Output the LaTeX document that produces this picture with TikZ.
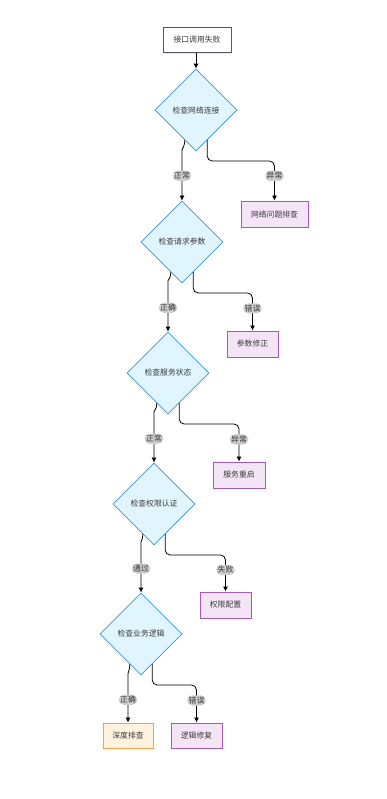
\documentclass[tikz,border=0pt]{standalone}
\usepackage{fontspec}
\setmainfont{Noto Sans CJK SC}
\usetikzlibrary{shapes.geometric,calc,arrows.meta,shadows}
\definecolor{dfill}{HTML}{E1F5FE}
\definecolor{dline}{HTML}{3A94D2}
\definecolor{pfill}{HTML}{F3E5F5}
\definecolor{pline}{HTML}{A558C0}
\definecolor{ofill}{HTML}{FFF3E0}
\definecolor{oline}{HTML}{FF9E45}
\definecolor{txt}{HTML}{3A3A3A}
\definecolor{sline}{HTML}{5A5468}
\definecolor{lblbg}{HTML}{CDCDCD}
\tikzset{
  base/.style={font=\fontsize{7.8}{9}\selectfont, text=txt},
  dia/.style={base, shape=diamond, draw=dline, fill=dfill, line width=0.8pt, minimum width=82pt, minimum height=82pt, inner sep=0pt},
  pbox/.style={base, draw=pline, fill=pfill, line width=0.9pt, minimum height=26pt, inner sep=0pt, drop shadow={opacity=0.18, shadow xshift=1.2pt, shadow yshift=-1.2pt}},
  obox/.style={base, draw=oline, fill=ofill, line width=0.9pt, minimum height=25pt, inner sep=0pt, drop shadow={opacity=0.18, shadow xshift=1.2pt, shadow yshift=-1.2pt}},
  sbox/.style={base, draw=sline, fill=white, line width=0.9pt, minimum height=25pt, minimum width=68pt, inner sep=0pt, drop shadow={opacity=0.18, shadow xshift=1.2pt, shadow yshift=-1.2pt}},
  arr/.style={draw=black, line width=0.8pt, -{Latex[length=5pt,width=5pt]}, rounded corners=5pt},
  lbl/.style={base, fill=lblbg, inner sep=1.5pt, outer sep=0pt}
}
\begin{document}
\begin{tikzpicture}[x=1pt,y=-1pt]
\useasboundingbox (0,0) rectangle (386,799);
% nodes
\node[sbox] (s) at (197,40) {接口调用失败};
\node[dia] (d1) at (196,110) {检查网络连接};
\node[dia] (d2) at (182,242) {检查请求参数};
\node[dia] (d3) at (168,373) {检查服务状态};
\node[dia] (d4) at (154,504) {检查权限认证};
\node[dia] (d5) at (141,634) {检查业务逻辑};
\node[pbox, minimum width=67pt] (n1) at (274.5,214) {网络问题排查};
\node[pbox, minimum width=51pt] (n2) at (252.5,344) {参数修正};
\node[pbox, minimum width=52pt] (n3) at (239,475) {服务重启};
\node[pbox, minimum width=51pt] (n4) at (225.5,605) {权限配置};
\node[obox, minimum width=50pt] (n5) at (128,735.5) {深度排查};
\node[pbox, minimum width=51pt, minimum height=25pt] (n6) at (196.5,735.5) {逻辑修复};
% start arrow
\draw[arr] (d1.north |- s.south) -- (d1.north);
% exit points
\foreach \d in {d1,d2,d3,d4,d5}{
  \coordinate (\d l) at ($(\d.south)!0.27!(\d.west)$);
  \coordinate (\d r) at ($(\d.south)!0.27!(\d.east)$);
  \coordinate (\d h) at ($(\d.center)+(0,51)$);
}
% left branches
\draw[arr] (d1l) .. controls +(-0.5,8) and +(0,-7) .. ($(d2.north)+(0,-46)$) -- node[lbl,pos=0.46] (l1) {正常} (d2.north);
\draw[arr] (d2l) .. controls +(-0.5,8) and +(0,-7) .. ($(d3.north)+(0,-46)$) -- node[lbl,pos=0.48] (l2) {正确} (d3.north);
\draw[arr] (d3l) .. controls +(-0.5,8) and +(0,-7) .. ($(d4.north)+(0,-46)$) -- node[lbl,pos=0.48] (l3) {正常} (d4.north);
\draw[arr] (d4l) .. controls +(-0.5,8) and +(0,-7) .. ($(d5.north)+(0,-46)$) -- node[lbl,pos=0.48] (l4) {通过} (d5.north);
\draw[arr] (d5l) .. controls +(-0.5,8) and +(0,-7) .. ($(n5.north)+(0,-44)$) -- node[lbl,pos=0.48] (l5) {正确} (n5.north);
% right branches
\draw[arr] (d1r) -- (d1r |- d1h) -- (n1.north |- d1h) -- node[lbl,pos=0.38] (r1) {异常} (n1.north);
\draw[arr] (d2r) -- (d2r |- d2h) -- (n2.north |- d2h) -- node[lbl,pos=0.41] (r2) {错误} (n2.north);
\draw[arr] (d3r) -- (d3r |- d3h) -- (n3.north |- d3h) -- node[lbl,pos=0.41] (r3) {异常} (n3.north);
\draw[arr] (d4r) -- (d4r |- d4h) -- (n4.north |- d4h) -- node[lbl,pos=0.41] (r4) {失败} (n4.north);
\draw[arr] (d5r) -- (d5r |- d5h) -- (n6.north |- d5h) -- node[lbl,pos=0.41] (r5) {错误} (n6.north);
\end{tikzpicture}
\end{document}
